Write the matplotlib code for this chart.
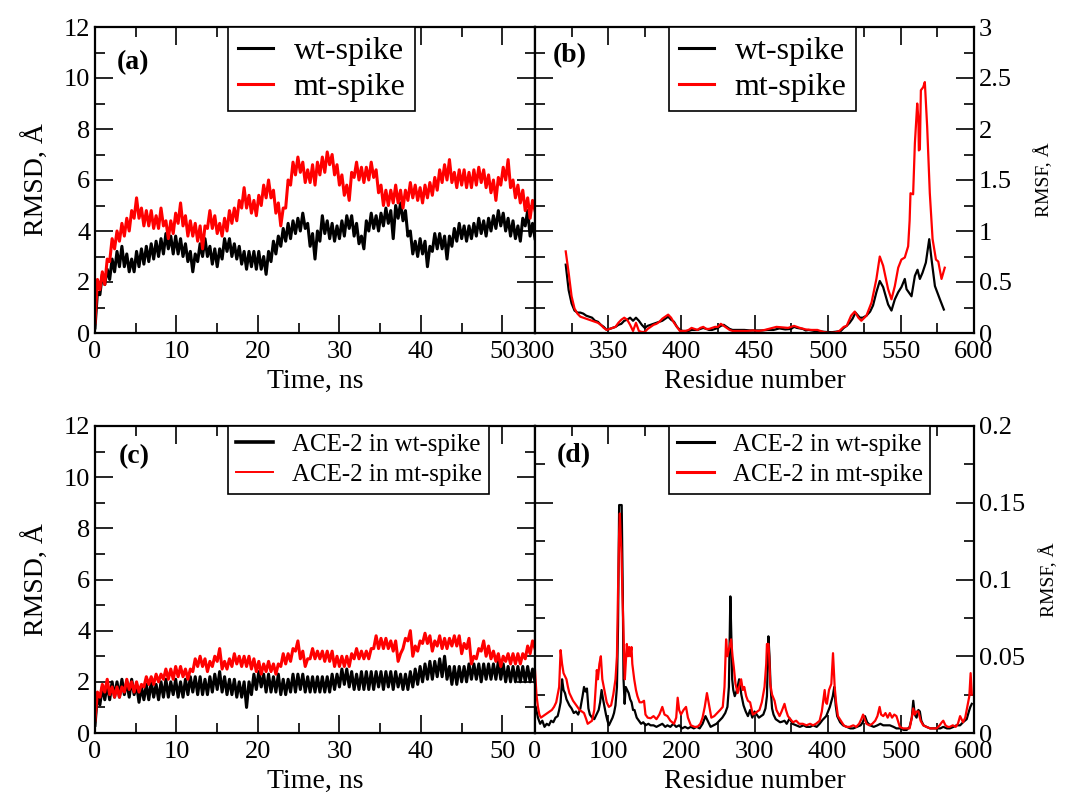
import numpy as np
import matplotlib
matplotlib.use("Agg")
import matplotlib.pyplot as plt
from matplotlib.ticker import MultipleLocator, FormatStrFormatter

plt.rcParams['font.family'] = ['Liberation Serif', 'DejaVu Serif']
plt.rcParams['mathtext.fontset'] = 'stix'

# ---------------- Panel (a): spike RMSD vs time (ns) ----------------
rmsd_a_wt = [0.2, 1.6, 1.5, 2.3, 1.9, 2.5, 2.1, 2.9, 2.4, 3.2, 2.6, 3.4, 2.6, 3.1, 2.4, 2.9, 2.4, 3.2, 2.6, 3.3,
             2.7, 3.4, 2.8, 3.5, 2.9, 3.6, 3.0, 3.7, 3.1, 3.9, 3.3, 3.8, 3.1, 3.8, 3.1, 3.7, 3.0, 3.5, 2.8, 3.2,
             2.4, 3.1, 2.8, 3.5, 3.0, 3.7, 3.0, 3.4, 2.7, 3.3, 2.6, 3.3, 2.9, 3.7, 3.2, 3.7, 3.0, 3.5, 2.9, 3.4,
             2.7, 3.2, 2.5, 3.2, 2.6, 3.2, 2.5, 3.2, 2.5, 3.0, 2.3, 3.2, 2.8, 3.6, 3.1, 3.8, 3.4, 4.1, 3.6, 4.3,
             3.7, 4.4, 3.9, 4.5, 4.0, 4.7, 4.1, 4.3, 3.4, 3.9, 2.9, 4.0, 3.6, 4.6, 3.9, 4.4, 3.7, 4.3, 3.6, 4.2,
             3.7, 4.4, 3.8, 4.6, 4.1, 4.6, 3.8, 4.3, 3.5, 3.8, 3.3, 4.4, 4.0, 4.7, 4.1, 4.6, 4.0, 4.7, 4.2, 4.9,
             4.3, 4.8, 3.7, 5.0, 4.5, 5.1, 4.4, 4.8, 3.8, 4.0, 3.1, 3.6, 3.0, 3.7, 3.1, 3.6, 2.6, 3.4, 3.2, 3.9,
             3.3, 3.9, 3.3, 3.8, 2.9, 3.8, 3.4, 4.1, 3.6, 4.3, 3.7, 4.2, 3.6, 4.2, 3.7, 4.3, 3.8, 4.5, 3.9, 4.4,
             3.8, 4.5, 4.0, 4.6, 4.1, 4.8, 4.2, 4.7, 4.0, 4.5, 3.8, 4.4, 3.7, 4.2, 3.6, 4.5, 4.2, 4.8, 3.8, 4.3,
             3.7]
rmsd_a_mt = [0.4, 2.1, 1.7, 2.4, 1.9, 2.9, 2.8, 3.7, 3.3, 4.0, 3.6, 4.3, 3.8, 4.5, 4.0, 4.8, 4.5, 5.3, 4.5, 4.9,
             4.2, 4.8, 4.2, 4.8, 4.1, 4.6, 4.1, 4.9, 4.2, 4.4, 3.7, 4.4, 3.9, 4.7, 4.3, 5.1, 4.2, 4.6, 3.8, 4.4,
             3.8, 4.3, 3.6, 4.2, 3.3, 4.2, 4.1, 4.8, 4.1, 4.6, 3.9, 4.3, 3.8, 4.5, 4.0, 4.8, 4.3, 4.9, 4.4, 5.2,
             4.9, 5.7, 4.9, 5.4, 4.7, 5.2, 4.6, 5.4, 5.0, 5.8, 5.3, 6.0, 5.3, 5.6, 4.7, 5.1, 4.2, 4.9, 4.9, 6.0,
             5.8, 6.7, 6.2, 6.9, 6.3, 6.7, 5.9, 6.4, 5.9, 6.6, 5.8, 6.7, 6.2, 6.9, 6.3, 7.1, 6.6, 7.0, 6.2, 6.6,
             5.8, 6.2, 5.4, 5.8, 5.2, 6.3, 6.1, 6.7, 6.0, 6.5, 5.9, 6.5, 6.0, 6.7, 6.1, 6.4, 5.5, 5.8, 5.0, 5.6,
             5.0, 5.6, 5.1, 5.8, 5.1, 5.6, 4.9, 5.6, 5.2, 5.9, 5.3, 5.8, 5.2, 5.7, 5.1, 5.8, 5.3, 5.9, 5.4, 6.1,
             5.6, 6.4, 5.9, 6.6, 6.0, 6.8, 5.9, 6.3, 5.7, 6.4, 5.8, 6.4, 5.7, 6.3, 5.7, 6.4, 5.8, 6.5, 5.9, 6.4,
             5.7, 6.2, 5.5, 6.0, 5.2, 6.1, 5.8, 6.5, 6.0, 6.8, 5.7, 6.0, 5.3, 5.8, 5.1, 5.6, 4.8, 5.3, 4.5, 5.2,
             4.8]

# ---------------- Panel (c): ACE-2 RMSD vs time (ns) ----------------
rmsd_c_wt = [0.3, 1.5, 1.1, 1.8, 1.3, 1.9, 1.3, 2.0, 1.4, 2.0, 1.4, 2.1, 1.5, 2.0, 1.4, 2.1, 1.5, 1.9, 1.2, 1.8,
             1.3, 1.9, 1.3, 2.0, 1.4, 1.9, 1.3, 2.0, 1.4, 2.1, 1.4, 2.0, 1.5, 2.1, 1.4, 2.0, 1.4, 2.1, 1.5, 2.2,
             1.6, 2.2, 1.5, 2.2, 1.5, 2.1, 1.5, 2.2, 1.6, 2.3, 1.7, 2.4, 1.6, 2.2, 1.5, 2.1, 1.5, 2.1, 1.4, 2.0,
             1.4, 2.0, 1.0, 2.0, 1.5, 2.3, 1.7, 2.4, 1.8, 2.3, 1.6, 2.3, 1.6, 2.2, 1.6, 2.3, 1.5, 2.1, 1.5, 2.1,
             1.6, 2.3, 1.6, 2.3, 1.7, 2.3, 1.6, 2.2, 1.6, 2.2, 1.6, 2.2, 1.6, 2.2, 1.6, 2.2, 1.6, 2.3, 1.7, 2.3,
             1.8, 2.5, 1.9, 2.5, 1.8, 2.4, 1.7, 2.3, 1.7, 2.4, 1.7, 2.4, 1.7, 2.4, 1.7, 2.4, 1.8, 2.4, 1.7, 2.4,
             1.8, 2.4, 1.7, 2.4, 1.8, 2.3, 1.7, 2.3, 1.7, 2.4, 1.8, 2.5, 1.9, 2.6, 2.0, 2.7, 2.1, 2.8, 2.1, 2.8,
             2.2, 2.9, 2.2, 3.0, 2.1, 2.6, 1.9, 2.6, 1.9, 2.6, 2.0, 2.6, 2.0, 2.7, 2.1, 2.7, 2.1, 2.7, 2.0, 2.7,
             2.1, 2.7, 2.1, 2.7, 2.1, 2.8, 2.1, 2.7, 2.0, 2.6, 2.0, 2.6, 2.0, 2.6, 2.0, 2.6, 2.0, 2.6, 2.0, 2.5,
             2.0]
rmsd_c_mt = [0.5, 1.6, 1.4, 1.9, 1.6, 2.1, 1.5, 1.8, 1.4, 1.8, 1.4, 1.8, 1.6, 2.1, 1.7, 2.0, 1.6, 2.0, 1.6, 1.9,
             1.8, 2.2, 1.9, 2.2, 1.9, 2.3, 2.0, 2.3, 2.1, 2.5, 2.1, 2.5, 2.1, 2.6, 2.2, 2.6, 2.2, 2.5, 2.1, 2.5,
             2.4, 2.9, 2.6, 3.0, 2.6, 2.9, 2.4, 2.8, 2.6, 3.0, 2.8, 3.3, 2.5, 2.8, 2.5, 2.9, 2.6, 3.1, 2.7, 3.0,
             2.6, 3.0, 2.6, 3.0, 2.5, 2.9, 2.4, 2.8, 2.3, 2.7, 2.4, 2.8, 2.4, 2.7, 2.3, 2.7, 2.6, 3.1, 2.7, 3.1,
             2.8, 3.3, 3.2, 3.6, 2.9, 3.2, 2.6, 2.9, 2.9, 3.3, 2.9, 3.2, 2.9, 3.2, 2.8, 3.2, 2.8, 3.2, 2.6, 3.0,
             2.6, 3.0, 2.6, 3.0, 2.6, 3.1, 2.9, 3.3, 2.9, 3.2, 2.9, 3.2, 2.9, 3.3, 3.3, 3.8, 3.3, 3.7, 3.3, 3.7,
             3.3, 3.6, 3.2, 3.6, 2.8, 3.1, 3.3, 3.7, 3.6, 4.0, 3.0, 3.4, 3.2, 3.6, 3.5, 3.9, 3.5, 3.8, 3.2, 3.6,
             3.4, 3.8, 3.3, 3.7, 3.3, 3.7, 3.4, 3.8, 3.4, 3.8, 3.1, 3.5, 3.3, 3.7, 2.7, 3.0, 2.9, 3.3, 3.2, 3.6,
             3.0, 3.4, 2.9, 3.2, 2.8, 3.1, 2.6, 3.0, 2.8, 3.1, 2.7, 3.1, 2.7, 3.1, 2.7, 3.1, 2.9, 3.4, 3.1, 3.6,
             3.3]

# ---------------- Panel (b): spike RMSF vs residue ----------------
res_b_wt = [321, 323, 325, 327, 329, 331, 333, 335, 337, 339, 341, 343, 345, 347, 349, 351, 353, 355, 357, 359,
            361, 363, 365, 367, 369, 371, 373, 375, 377, 379, 381, 383, 385, 387, 389, 391, 393, 395, 397, 399,
            401, 403, 405, 407, 409, 411, 413, 415, 417, 419, 421, 423, 425, 427, 429, 431, 433, 435, 437, 439,
            441, 443, 447, 451, 455, 459, 463, 467, 471, 475, 477, 479, 481, 483, 485, 487, 491, 495, 499, 503,
            507, 509, 511, 513, 515, 517, 519, 522, 524, 526.5, 529, 531, 533.3, 535.6, 537.9, 541.3, 543.6, 545.9, 548.2, 550.4,
            552.7, 553.9, 557.3, 559.6, 561.4, 563, 564.8, 567.1, 569.4, 571, 573.3, 576.7, 579.4]
rmsf_b_wt = [0.67, 0.42, 0.29, 0.22, 0.20, 0.20, 0.19, 0.17, 0.16, 0.15, 0.12, 0.11, 0.08, 0.06, 0.03, 0.04, 0.05, 0.06, 0.08, 0.09,
             0.12, 0.13, 0.15, 0.12, 0.15, 0.12, 0.08, 0.05, 0.07, 0.08, 0.09, 0.10, 0.11, 0.12, 0.14, 0.16, 0.13, 0.11, 0.06, 0.03,
             0.02, 0.02, 0.02, 0.03, 0.03, 0.03, 0.04, 0.05, 0.04, 0.03, 0.03, 0.04, 0.05, 0.07, 0.08, 0.06, 0.04, 0.03, 0.03, 0.03,
             0.03, 0.03, 0.025, 0.025, 0.025, 0.03, 0.03, 0.045, 0.035, 0.04, 0.06, 0.05, 0.045, 0.04, 0.025, 0.03, 0.02, 0.015, 0.01, 0.008,
             0.015, 0.02, 0.05, 0.07, 0.10, 0.14, 0.20, 0.15, 0.15, 0.17, 0.21, 0.27, 0.40, 0.51, 0.45, 0.28, 0.22, 0.33, 0.40, 0.45,
             0.53, 0.43, 0.36, 0.56, 0.62, 0.53, 0.59, 0.69, 0.92, 0.72, 0.46, 0.33, 0.23]
res_b_mt = [321, 323, 325, 327, 329, 331, 333, 335, 337, 339, 341, 343, 345, 347, 349, 351, 353, 355, 357, 359,
            361, 363, 365, 367, 369, 371, 373, 375, 377, 379, 381, 383, 385, 387, 389, 391, 393, 395, 397, 399,
            401, 403, 405, 407, 409, 411, 413, 415, 417, 419, 421, 423, 425, 427, 429, 431, 433, 435, 437, 441,
            445, 449, 453, 457, 461, 465, 469, 473, 477, 479, 481, 485, 489, 493, 497, 501, 505, 508, 511, 513,
            516, 518.5, 521, 523, 526.5, 530, 533.3, 535.6, 537.9, 541.3, 543.6, 545.9, 548.2, 550.4, 552.7, 555, 556, 556.6, 558.4, 559.6,
            561.2, 562, 562.3, 563, 563.7, 565.3, 566.4, 568, 569.8, 571.7, 574, 575.6, 577.8, 580]
rmsf_b_mt = [0.80, 0.59, 0.36, 0.24, 0.19, 0.16, 0.15, 0.14, 0.13, 0.12, 0.11, 0.10, 0.08, 0.05, 0.03, 0.04, 0.05, 0.06, 0.10, 0.13,
             0.15, 0.13, 0.08, 0.02, 0.10, 0.02, 0.01, 0.01, 0.04, 0.06, 0.08, 0.09, 0.11, 0.14, 0.16, 0.18, 0.15, 0.10, 0.06, 0.02,
             0.02, 0.02, 0.03, 0.05, 0.04, 0.03, 0.05, 0.06, 0.04, 0.04, 0.05, 0.06, 0.06, 0.09, 0.07, 0.05, 0.03, 0.02, 0.02, 0.02,
             0.02, 0.025, 0.02, 0.03, 0.045, 0.06, 0.055, 0.05, 0.07, 0.06, 0.05, 0.035, 0.03, 0.03, 0.01, 0.0, 0.005, 0.02, 0.06, 0.07,
             0.17, 0.21, 0.15, 0.12, 0.17, 0.30, 0.53, 0.75, 0.66, 0.43, 0.33, 0.46, 0.64, 0.72, 0.74, 0.85, 1.10, 1.37, 1.36, 1.86,
             2.25, 2.10, 1.79, 1.80, 2.38, 2.41, 2.46, 2.02, 1.37, 0.92, 0.72, 0.70, 0.53, 0.64]

# ---------------- Panel (d): ACE-2 RMSF vs residue ----------------
res_d_wt = [1, 4, 7, 10, 13, 16, 19, 22, 25, 28, 31, 33, 35, 37, 39, 41, 43, 45, 47, 50,
            53, 56, 59, 62, 65, 67, 69, 71, 73, 75, 78, 81, 84, 87, 89, 91, 93, 95, 97, 99,
            101, 103, 106, 108, 110, 112, 113.5, 115, 118.5, 120, 121, 122.5, 124, 126, 128, 130, 132, 134, 136, 139,
            142, 145, 148, 151, 155, 158, 162, 166, 170, 174, 178, 181, 185, 189, 193, 197, 201, 205, 209, 213,
            217, 221, 225, 229, 233, 236, 240, 244, 248, 252, 256, 260, 263, 265, 267, 268.5, 269.5, 271, 273, 276,
            279, 282, 285, 288, 291, 294, 297, 300, 303, 306, 309, 312, 315, 317, 319, 320.5, 322, 324, 326, 329,
            332, 335, 338, 341, 344, 348, 352, 357, 362, 367, 371, 376, 380, 385, 389, 393, 398, 403, 407, 409,
            411, 413, 417, 421, 426, 431, 435, 440, 445, 448, 451, 454, 458, 463, 468, 472, 476, 481, 485, 490,
            494, 499, 504, 508, 512, 515, 517, 519, 521.5, 524, 526, 528, 531, 535, 540, 545, 549, 554, 558, 563,
            567, 572, 576, 581, 585, 590, 593, 595, 597]
rmsf_d_wt = [0.017, 0.010, 0.006, 0.008, 0.004, 0.006, 0.005, 0.008, 0.007, 0.010, 0.011, 0.015, 0.020, 0.035, 0.028, 0.026, 0.022, 0.020, 0.018, 0.016,
             0.013, 0.014, 0.012, 0.016, 0.024, 0.030, 0.027, 0.029, 0.016, 0.012, 0.010, 0.009, 0.012, 0.015, 0.020, 0.028, 0.022, 0.017, 0.012, 0.008,
             0.005, 0.007, 0.010, 0.013, 0.018, 0.030, 0.070, 0.1485, 0.1485, 0.090, 0.035, 0.019, 0.030, 0.028, 0.026, 0.022, 0.020, 0.015, 0.015, 0.010,
             0.008, 0.006, 0.007, 0.005, 0.006, 0.005, 0.005, 0.004, 0.005, 0.006, 0.004, 0.005, 0.004, 0.006, 0.004, 0.005, 0.003, 0.004, 0.003, 0.004,
             0.003, 0.004, 0.003, 0.006, 0.011, 0.008, 0.004, 0.005, 0.006, 0.008, 0.010, 0.013, 0.017, 0.030, 0.089, 0.060, 0.035, 0.028, 0.024, 0.028,
             0.035, 0.025, 0.018, 0.014, 0.011, 0.015, 0.010, 0.014, 0.012, 0.010, 0.011, 0.012, 0.016, 0.024, 0.063, 0.050, 0.030, 0.016, 0.012, 0.009,
             0.008, 0.007, 0.0074, 0.008, 0.006, 0.0095, 0.006, 0.005, 0.004, 0.005, 0.004, 0.004, 0.005, 0.004, 0.006, 0.0085, 0.011, 0.017, 0.024, 0.030,
             0.018, 0.011, 0.007, 0.005, 0.004, 0.003, 0.003, 0.004, 0.005, 0.007, 0.011, 0.007, 0.005, 0.004, 0.005, 0.006, 0.005, 0.005, 0.005, 0.004,
             0.003, 0.003, 0.002, 0.002, 0.004, 0.010, 0.021, 0.012, 0.010, 0.015, 0.014, 0.008, 0.005, 0.004, 0.003, 0.003, 0.003, 0.003, 0.004, 0.003,
             0.003, 0.004, 0.005, 0.005, 0.007, 0.009, 0.014, 0.017, 0.019]
res_d_mt = [0, 2, 4, 6, 8, 11, 14, 17, 20, 23, 26, 29, 31, 33, 35, 37, 39, 41, 43, 45,
            47, 49, 52, 55, 58, 61, 64, 67, 70, 72, 75, 78, 81, 83, 84.5, 86, 88, 90, 92, 94,
            96, 98, 101, 104, 107, 110, 112, 113.5, 115, 116, 117, 118.2, 119.5, 120.5, 122, 122.8, 124, 125.5, 127, 128.7,
            130, 131.9, 133, 135.6, 138, 140, 143, 146, 149, 151, 154, 158, 162, 166, 170, 174, 177, 181, 185, 190,
            193, 195, 197, 199.5, 203, 206.4, 209, 213, 218, 222, 226, 229, 232, 235, 238, 241, 245, 249, 253, 256.6,
            259, 261.2, 263, 265.7, 268, 270, 271.7, 274, 277, 279, 281.7, 284, 286, 288.6, 291, 294, 297.7, 301, 304, 306.8,
            310, 313.7, 316, 317, 319.2, 320.5, 321.5, 324, 327.4, 330, 334.2, 337, 341, 343, 345.7, 349, 352.5, 357, 361, 366,
            371, 376, 380, 384, 389, 392, 395.9, 397.5, 399, 401.8, 405, 407.3, 409.6, 411.5, 414, 418, 422, 425.6, 430, 435,
            439, 443, 446, 448.4, 450, 453, 457, 461, 465, 468, 471, 473, 476, 479, 482, 485, 488, 491, 494, 496,
            498.6, 503, 508, 512, 515, 517, 519, 521, 524, 527, 530.6, 535, 540, 545, 549, 553, 556, 558, 561, 564,
            567, 571, 575, 578, 581, 583, 585, 588, 590, 592, 593.6, 595.4, 597]
rmsf_d_mt = [0.041, 0.025, 0.017, 0.012, 0.010, 0.011, 0.012, 0.013, 0.014, 0.015, 0.017, 0.020, 0.025, 0.030, 0.054, 0.045, 0.039, 0.037, 0.035, 0.030,
             0.026, 0.024, 0.021, 0.019, 0.017, 0.015, 0.014, 0.013, 0.009, 0.006, 0.007, 0.008, 0.015, 0.030, 0.041, 0.035, 0.045, 0.050, 0.035, 0.030,
             0.025, 0.020, 0.017, 0.018, 0.025, 0.035, 0.050, 0.093, 0.130, 0.143, 0.130, 0.117, 0.090, 0.074, 0.045, 0.035, 0.045, 0.058, 0.050, 0.056,
             0.050, 0.056, 0.045, 0.035, 0.028, 0.024, 0.020, 0.020, 0.021, 0.012, 0.010, 0.0096, 0.011, 0.009, 0.012, 0.017, 0.012, 0.011, 0.008, 0.006,
             0.010, 0.023, 0.015, 0.012, 0.015, 0.017, 0.010, 0.005, 0.004, 0.004, 0.006, 0.010, 0.017, 0.026, 0.018, 0.010, 0.011, 0.013, 0.015, 0.017,
             0.030, 0.061, 0.050, 0.056, 0.061, 0.050, 0.043, 0.032, 0.026, 0.030, 0.035, 0.028, 0.030, 0.024, 0.021, 0.020, 0.012, 0.013, 0.014, 0.015,
             0.020, 0.030, 0.045, 0.058, 0.058, 0.045, 0.032, 0.025, 0.021, 0.015, 0.011, 0.014, 0.019, 0.015, 0.011, 0.009, 0.007, 0.008, 0.006, 0.006,
             0.005, 0.006, 0.005, 0.006, 0.008, 0.014, 0.028, 0.020, 0.019, 0.028, 0.032, 0.052, 0.030, 0.020, 0.011, 0.008, 0.005, 0.004, 0.004, 0.005,
             0.004, 0.006, 0.009, 0.012, 0.010, 0.006, 0.005, 0.006, 0.008, 0.011, 0.017, 0.012, 0.011, 0.013, 0.010, 0.013, 0.010, 0.012, 0.011, 0.008,
             0.004, 0.003, 0.003, 0.003, 0.010, 0.016, 0.012, 0.014, 0.014, 0.008, 0.005, 0.004, 0.003, 0.003, 0.003, 0.005, 0.007, 0.008, 0.005, 0.004,
             0.004, 0.005, 0.004, 0.006, 0.011, 0.009, 0.007, 0.010, 0.015, 0.020, 0.024, 0.039, 0.025]

legend_ab = ['wt-spike', 'mt-spike']
legend_cd = ['ACE-2 in wt-spike', 'ACE-2 in mt-spike']
panel_tags = ['(a)', '(b)', '(c)', '(d)']

T_END = 54.0
time_a = np.linspace(0, T_END, len(rmsd_a_wt))
time_c = np.linspace(0, T_END, len(rmsd_c_wt))

fig = plt.figure(figsize=(10.7, 8), dpi=100)
W, H = 1070.0, 800.0

def box(x0, x1, ytop, ybot):
    return [x0 / W, 1 - ybot / H, (x1 - x0) / W, (ybot - ytop) / H]

ax_a = fig.add_axes(box(95, 535, 27, 333))
ax_b = fig.add_axes(box(535, 974, 27, 333))
ax_c = fig.add_axes(box(95, 535, 426, 733))
ax_d = fig.add_axes(box(535, 974, 426, 733))

TICK_FS = 19
LABEL_FS = 20
NOISY_LW = 2.2

def style(ax, xmaj, xmin, ymaj, ymin, right_labels=False):
    for s in ax.spines.values():
        s.set_linewidth(1.6)
    ax.xaxis.set_major_locator(MultipleLocator(xmaj))
    ax.xaxis.set_minor_locator(MultipleLocator(xmin))
    ax.yaxis.set_major_locator(MultipleLocator(ymaj))
    ax.yaxis.set_minor_locator(MultipleLocator(ymin))
    ax.xaxis.set_major_formatter(FormatStrFormatter('%g'))
    ax.yaxis.set_major_formatter(FormatStrFormatter('%g'))
    ax.tick_params(which='both', direction='in', top=True, bottom=True, left=True, right=True,
                   labelsize=TICK_FS, width=1.2)
    ax.tick_params(which='major', length=13)
    ax.tick_params(which='minor', length=7)
    ax.tick_params(axis='x', which='major', pad=6)
    if right_labels:
        ax.tick_params(labelleft=False, labelright=True)

# (a)
ax_a.plot(time_a, rmsd_a_wt, color='black', lw=NOISY_LW, label=legend_ab[0])
ax_a.plot(time_a, rmsd_a_mt, color='red', lw=NOISY_LW, label=legend_ab[1])
ax_a.set_xlim(0, T_END)
ax_a.set_ylim(0, 12)
style(ax_a, 10, 5, 2, 1)
ax_a.set_xlabel('Time, ns', fontsize=LABEL_FS, labelpad=4)
ax_a.set_ylabel('RMSD, Å', fontsize=LABEL_FS, labelpad=10)

# (b)
ax_b.plot(res_b_wt, rmsf_b_wt, color='black', lw=1.6, label=legend_ab[0])
ax_b.plot(res_b_mt, rmsf_b_mt, color='red', lw=1.6, label=legend_ab[1])
ax_b.set_xlim(300, 600)
ax_b.set_ylim(0, 3)
style(ax_b, 50, 25, 0.5, 0.25, right_labels=True)
ax_b.set_xlabel('Residue number', fontsize=LABEL_FS, labelpad=4)
ax_b.yaxis.set_label_position('right')
ax_b.set_ylabel('RMSF, Å', fontsize=14, labelpad=16)

# (c)
ax_c.plot(time_c, rmsd_c_wt, color='black', lw=NOISY_LW, label=legend_cd[0])
ax_c.plot(time_c, rmsd_c_mt, color='red', lw=NOISY_LW, label=legend_cd[1])
ax_c.set_xlim(0, T_END)
ax_c.set_ylim(0, 12)
style(ax_c, 10, 5, 2, 1)
ax_c.set_xlabel('Time, ns', fontsize=LABEL_FS, labelpad=4)
ax_c.set_ylabel('RMSD, Å', fontsize=LABEL_FS, labelpad=10)

# (d)
ax_d.plot(res_d_wt, rmsf_d_wt, color='black', lw=1.6, label=legend_cd[0])
ax_d.plot(res_d_mt, rmsf_d_mt, color='red', lw=1.6, label=legend_cd[1])
ax_d.set_xlim(0, 600)
ax_d.set_ylim(0, 0.2)
style(ax_d, 100, 50, 0.05, 0.025, right_labels=True)
ax_d.set_xlabel('Residue number', fontsize=LABEL_FS, labelpad=4)
ax_d.yaxis.set_label_position('right')
ax_d.set_ylabel('RMSF, Å', fontsize=14, labelpad=10)

# panel tags
for ax, tag, (tx, ty) in zip([ax_a, ax_b, ax_c, ax_d], panel_tags,
                              [(0.05, 0.885), (0.041, 0.905), (0.055, 0.90), (0.05, 0.905)]):
    ax.text(tx, ty, tag, transform=ax.transAxes, fontsize=20, fontweight='bold',
            ha='left', va='center')

def add_legend(ax, x0, fs, hl, htp, lws, ls=0.2):
    leg = ax.legend(loc='upper left', bbox_to_anchor=(x0, 1.0), borderaxespad=0,
                    fontsize=fs, frameon=True, fancybox=False, framealpha=1,
                    edgecolor='black', handlelength=hl, handletextpad=htp,
                    borderpad=0.3, labelspacing=ls)
    leg.get_frame().set_linewidth(1.2)
    for line, lw in zip(leg.get_lines(), lws):
        line.set_linewidth(lw)
    return leg

add_legend(ax_a, (228 - 95) / 440.0, 23, 1.1, 0.65, [2.2, 2.2])
add_legend(ax_b, (669 - 535) / 439.0, 23, 1.1, 0.65, [2.2, 2.2])
add_legend(ax_c, (228 - 95) / 440.0, 18, 1.5, 0.75, [2.6, 1.4], ls=0.3)
add_legend(ax_d, (669 - 535) / 439.0, 18, 1.5, 0.75, [2.2, 2.2], ls=0.3)

fig.savefig('out.png', dpi=100)
